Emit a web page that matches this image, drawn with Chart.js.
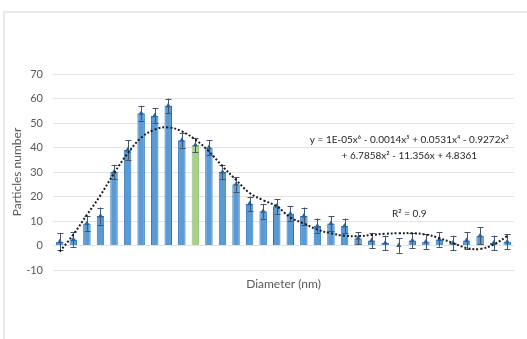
<!DOCTYPE html>
<html>
<head>
<meta charset="utf-8">
<script src="https://cdn.jsdelivr.net/npm/chart.js@4/dist/chart.umd.min.js"></script>
<style>
  html, body { margin: 0; padding: 0; background: #ffffff; }
  #wrap { position: relative; width: 527px; height: 339px; overflow: hidden; }
  #frame { position: absolute; left: 3px; top: 11px; width: 600px; height: 400px;
           border-top: 2px solid #e9e9e9; border-left: 2px solid #e9e9e9; }
  canvas { position: absolute; left: 0; top: 0; }
</style>
</head>
<body>
<div id="wrap">
  <div id="frame"></div>
  <canvas id="c" width="527" height="339"></canvas>
</div>
<script>
// ---- data ----
const categories = ['30','40','50','60','70','80','90','100','110','120','130','140','150','160','170','180','190','200','210','220','230','240','250','260','270','280','290','300','310','320','330','340','350','360'];
const particles  = [1.5, 2.5, 9, 12, 30, 39, 54, 53, 57, 43, 41, 40, 30, 25, 17, 14, 16, 13, 12, 8, 9, 8, 3, 2, 1, 0, 2, 1.5, 2.5, 1, 2, 4, 1, 1.5];
const errors     = [3.5, 3, 3, 3.5, 3, 4, 3, 3, 3, 3, 3, 3, 3, 3, 3, 3, 3, 3, 3.5, 3, 3, 3, 2.5, 3, 3, 3, 3, 3, 3, 3, 3.5, 3.5, 3, 3];
const trend      = [-2.5, 4.5, 12.5, 20.5, 29.5, 37.5, 44, 47.3, 48.2, 46.6, 43.2, 38.4, 32.3, 26.8, 21.4, 18.5, 16, 11.5, 9, 6.5, 5, 4, 3.8, 4.3, 4.8, 5, 5, 4.5, 3, 1, -1, -1.4, 0.4, 3.8];
const highlightIndex = 10;
const yTicks = [-10, 0, 10, 20, 30, 40, 50, 60, 70];
const equationLines = ['y = 1E-05x\u2076 - 0.0014x\u2075 + 0.0531x\u2074 - 0.9272x\u00B3', '+ 6.7858x\u00B2 - 11.356x + 4.8361'];
const r2Label = 'R\u00B2 = 0.9';

const FONT = 'Lato, "Open Sans", sans-serif';
const TXT = '#595959';

const barColors = particles.map((_, i) => i === highlightIndex ? '#a9d18e' : '#5b9bd5');
const barBorders = particles.map((_, i) => i === highlightIndex ? '#8fbf70' : '#2e75b6');

const errorBarPlugin = {
  id: 'errorBars',
  afterDatasetDraw(chart, args) {
    if (args.index !== 0) return;
    const ctx = chart.ctx, xs = chart.scales.x, ys = chart.scales.y;
    ctx.save();
    ctx.strokeStyle = '#44546a';
    ctx.lineWidth = 1;
    particles.forEach((v, i) => {
      const x = Math.round(xs.getPixelForValue(i)) + 0.5;
      const yt = ys.getPixelForValue(v + errors[i]);
      const yb = ys.getPixelForValue(v - errors[i]);
      ctx.beginPath();
      ctx.moveTo(x, yt); ctx.lineTo(x, yb);
      ctx.moveTo(x - 3, Math.round(yt) + 0.5); ctx.lineTo(x + 3, Math.round(yt) + 0.5);
      ctx.moveTo(x - 3, Math.round(yb) + 0.5); ctx.lineTo(x + 3, Math.round(yb) + 0.5);
      ctx.stroke();
    });
    ctx.restore();
  }
};

const labelPlugin = {
  id: 'trendLabels',
  afterDraw(chart) {
    const ctx = chart.ctx, xs = chart.scales.x, ys = chart.scales.y;
    ctx.save();
    ctx.fillStyle = '#262626';
    ctx.font = '10px ' + FONT;
    ctx.textAlign = 'center';
    ctx.textBaseline = 'middle';
    const cx = xs.getPixelForValue(26) - 3;
    ctx.fillText(equationLines[0], cx, ys.getPixelForValue(43));
    ctx.fillText(equationLines[1], cx, ys.getPixelForValue(36.6));
    ctx.fillText(r2Label, cx, ys.getPixelForValue(13));
    ctx.restore();
  }
};

new Chart(document.getElementById('c'), {
  data: {
    labels: categories,
    datasets: [
      {
        type: 'bar',
        data: particles,
        backgroundColor: barColors,
        borderColor: barBorders,
        borderWidth: 1,
        barPercentage: 0.55,
        categoryPercentage: 1.0,
        order: 3
      },
      {
        type: 'line',
        data: particles,
        showLine: false,
        pointStyle: 'triangle',
        pointRadius: 3,
        pointBackgroundColor: '#2f5f8f',
        pointBorderColor: '#2f5f8f',
        pointBorderWidth: 0,
        order: 2
      },
      {
        type: 'line',
        data: trend,
        borderColor: '#1a1a1a',
        borderWidth: 2,
        borderDash: [2, 2],
        tension: 0.4,
        pointRadius: 0,
        fill: false,
        order: 1
      }
    ]
  },
  options: {
    responsive: false,
    animation: false,
    layout: { padding: { left: 10, right: 13, top: 74, bottom: 48 } },
    plugins: { legend: { display: false }, tooltip: { enabled: false } },
    scales: {
      x: {
        grid: { display: false, drawTicks: false },
        border: { display: false },
        ticks: {
          autoSkip: false, maxRotation: 0, minRotation: 0,
          padding: -13,
          color: TXT,
          font: { family: FONT, size: 11 },
          callback: function(v, i) { return i % 2 === 0 ? categories[i] : ''; }
        },
        title: { display: true, text: 'Diameter (nm)', color: TXT, font: { family: FONT, size: 12 }, padding: 0 },
        afterFit(s) { s.height = 21; }
      },
      y: {
        min: -10, max: 70,
        afterBuildTicks(s) { s.ticks = yTicks.map(v => ({ value: v })); },
        grid: { color: '#e3e3e3', lineWidth: 1, drawTicks: false },
        border: { display: false },
        ticks: { padding: 10, color: TXT, font: { family: FONT, size: 11 } },
        title: { display: true, text: 'Particles number', color: TXT, font: { family: FONT, size: 12 }, padding: 0 },
        afterFit(s) { s.width = 43; }
      }
    }
  },
  plugins: [errorBarPlugin, labelPlugin]
});
</script>
</body>
</html>
